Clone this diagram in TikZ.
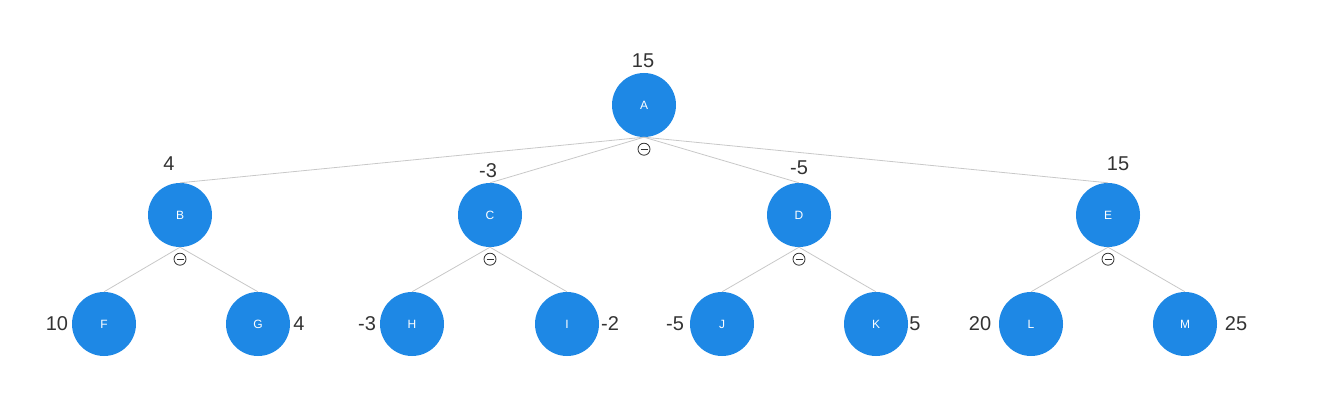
\documentclass[tikz,border=0pt]{standalone}
\usepackage{fontspec}
\setmainfont{Liberation Sans}
\definecolor{nodeblue}{HTML}{1E88E5}
\definecolor{edgegray}{HTML}{C8C8C8}
\definecolor{labeltxt}{HTML}{333333}
\begin{document}
\begin{tikzpicture}[x=1pt,y=-1pt,
  tnode/.style={circle,fill=nodeblue,minimum size=64pt,inner sep=0pt,text=white,font=\fontsize{12}{12}\selectfont},
  edge/.style={draw=edgegray,line width=0.8pt},
  val/.style={text=labeltxt,font=\fontsize{20}{20}\selectfont,inner sep=0pt},
  tog/.style={circle,draw=labeltxt,line width=0.8pt,minimum size=12pt,inner sep=0pt,fill=white}]
\useasboundingbox (0,0) rectangle (1321,409);
\node[tnode] (A) at (644,105) {A};
\node[tnode] (B) at (180,215) {B};
\node[tnode] (C) at (490,215) {C};
\node[tnode] (D) at (799,215) {D};
\node[tnode] (E) at (1108,215) {E};
\node[tnode] (F) at (104,324) {F};
\node[tnode] (G) at (258,324) {G};
\node[tnode] (H) at (412,324) {H};
\node[tnode] (I) at (567,324) {I};
\node[tnode] (J) at (722,324) {J};
\node[tnode] (K) at (876,324) {K};
\node[tnode] (L) at (1031,324) {L};
\node[tnode] (M) at (1185,324) {M};
\foreach \p/\c in {A/B,A/C,A/D,A/E,B/F,B/G,C/H,C/I,D/J,D/K,E/L,E/M}
  \draw[edge] (\p.south) -- (\c.north);
\foreach \p in {A,B,C,D,E}{
  \node[tog] (t\p) at ([yshift=-12pt]\p.south) {};
  \draw[labeltxt,line width=0.8pt] ([xshift=-3.5pt]t\p.center) -- ([xshift=3.5pt]t\p.center);
}
\node[val] (vA) at (643,61) {15};
\node[val] (vB) at (169,164) {4};
\node[val] (vC) at (488,171) {-3};
\node[val] (vD) at (799,168) {-5};
\node[val] (vE) at (1118,164) {15};
\node[val] (vF) at (57,324) {10};
\node[val] (vG) at (299,324) {4};
\node[val] (vH) at (367,324) {-3};
\node[val] (vI) at (610,324) {-2};
\node[val] (vJ) at (675,324) {-5};
\node[val] (vK) at (915,324) {5};
\node[val] (vL) at (980,324) {20};
\node[val] (vM) at (1236,324) {25};
\end{tikzpicture}
\end{document}
